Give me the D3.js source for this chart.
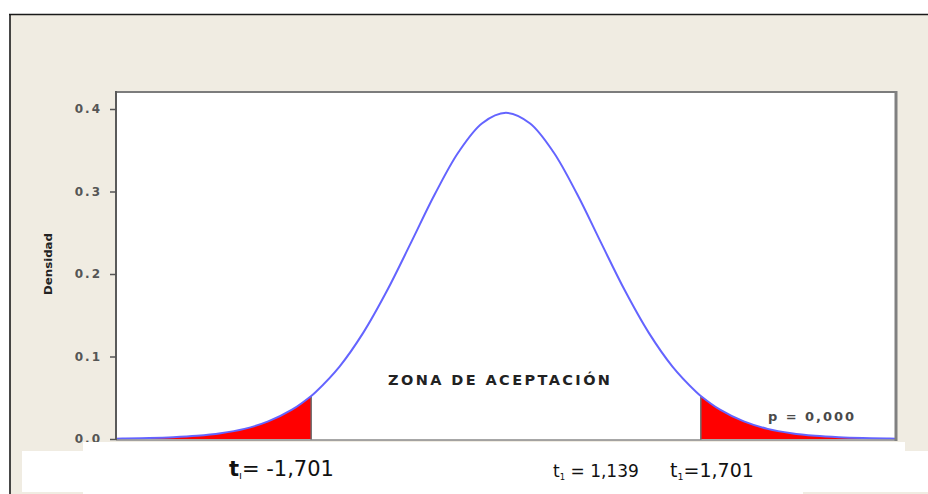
<!DOCTYPE html>
<html>
<head>
<meta charset="utf-8">
<script src="https://cdn.jsdelivr.net/npm/d3@7"></script>
<style>
  html, body { margin: 0; padding: 0; background: #ffffff; }
  svg { display: block; }
</style>
</head>
<body>
<svg id="chart" width="928" height="494"></svg>
<script>
// ---- data ----
const tValues = [-4.1, -4, -3.75, -3.5, -3.25, -3, -2.75, -2.5, -2.25, -2.048, -2, -1.75, -1.5, -1.25, -1, -0.75, -0.5, -0.25,
                 0, 0.25, 0.5, 0.75, 1, 1.25, 1.5, 1.75, 2, 2.048, 2.25, 2.5, 2.75, 3, 3.25, 3.5, 3.75, 4, 4.1];
const density = [0.00045, 0.00056, 0.00108, 0.00205, 0.00382, 0.00695, 0.0123, 0.0213, 0.0355, 0.0522, 0.0570, 0.0878, 0.1289, 0.1799, 0.2377, 0.2963, 0.3476, 0.3828,
                 0.3954, 0.3828, 0.3476, 0.2963, 0.2377, 0.1799, 0.1289, 0.0878, 0.0570, 0.0522, 0.0355, 0.0213, 0.0123, 0.00695, 0.00382, 0.00205, 0.00108, 0.00056, 0.00045];
const criticalLeft = -2.048;
const criticalRight = 2.048;
const yTicks = [0.0, 0.1, 0.2, 0.3, 0.4];
const yTickLabels = ["0.0", "0.1", "0.2", "0.3", "0.4"];
const yAxisTitle = "Densidad";
const zoneLabel = "ZONA DE ACEPTACIÓN";
const pLabel = "p = 0,000";
const bottomLabels = [
  { main: "t", sub: "ı", rest: "= -1,701" },
  { main: "t", sub: "1", rest: " = 1,139" },
  { main: "t", sub: "1", rest: "=1,701" }
];

(function () {
const svg = d3.select("#chart");
const W = 928, H = 494;
const beige = "#f0ece2";

// background frame
svg.append("rect").attr("x", 0).attr("y", 0).attr("width", W).attr("height", H).attr("fill", "#ffffff");
svg.append("rect").attr("x", 10).attr("y", 15).attr("width", W - 10).attr("height", H - 15).attr("fill", beige);
svg.append("line").attr("x1", 9).attr("x2", W).attr("y1", 14.5).attr("y2", 14.5).attr("stroke", "#1a1a1a").attr("stroke-width", 1.6);
svg.append("line").attr("x1", 10).attr("x2", 10).attr("y1", 14).attr("y2", H).attr("stroke", "#1a1a1a").attr("stroke-width", 1.6);

// plot area
const pL = 116, pR = 896, pT = 92, pB = 440;
const x = d3.scaleLinear().domain([-4.1, 4.1]).range([pL, pR]);
const y = d3.scaleLinear().domain([0, 0.4]).range([439, 109]);

svg.append("rect").attr("x", pL).attr("y", pT).attr("width", pR - pL).attr("height", pB - pT)
  .attr("fill", "#ffffff");

const pts = tValues.map((t, i) => ({ t, d: density[i] }));

// clip paths for tails
const defs = svg.append("defs");
defs.append("clipPath").attr("id", "clipL").append("rect")
  .attr("x", pL).attr("y", pT).attr("width", x(criticalLeft) - pL).attr("height", pB - pT);
defs.append("clipPath").attr("id", "clipR").append("rect")
  .attr("x", x(criticalRight)).attr("y", pT).attr("width", pR - x(criticalRight)).attr("height", pB - pT);

const area = d3.area().x(p => x(p.t)).y0(y(0)).y1(p => y(p.d)).curve(d3.curveCatmullRom);
const line = d3.line().x(p => x(p.t)).y(p => y(p.d)).curve(d3.curveCatmullRom);

svg.append("path").datum(pts).attr("d", area).attr("fill", "#ff0000").attr("clip-path", "url(#clipL)");
svg.append("path").datum(pts).attr("d", area).attr("fill", "#ff0000").attr("clip-path", "url(#clipR)");

// critical lines
[criticalLeft, criticalRight].forEach(c => {
  const i = tValues.indexOf(c);
  svg.append("line").attr("x1", x(c)).attr("x2", x(c)).attr("y1", y(density[i])).attr("y2", pB)
    .attr("stroke", "#6e6e6e").attr("stroke-width", 1.5);
});

svg.append("path").datum(pts).attr("d", line).attr("fill", "none").attr("stroke", "#6464ff").attr("stroke-width", 2);

// frame of plot area
svg.append("line").attr("x1", pL).attr("x2", pR).attr("y1", pT).attr("y2", pT).attr("stroke", "#7c7c7c").attr("stroke-width", 2);
svg.append("line").attr("x1", pL).attr("x2", pR + 1).attr("y1", pB).attr("y2", pB).attr("stroke", "#8a8a8a").attr("stroke-width", 1.5);
svg.append("line").attr("x1", pL).attr("x2", pL).attr("y1", pT - 1).attr("y2", pB).attr("stroke", "#5a5a5a").attr("stroke-width", 2);
svg.append("line").attr("x1", pR).attr("x2", pR).attr("y1", pT - 1).attr("y2", pB + 1).attr("stroke", "#808080").attr("stroke-width", 3);

// y axis
const yAxis = d3.axisLeft(y).tickValues(yTicks).tickSize(6).tickPadding(8)
  .tickFormat((d, i) => yTickLabels[i]);
const gy = svg.append("g").attr("transform", `translate(${pL},0)`).call(yAxis);
gy.select(".domain").remove();
gy.selectAll(".tick line").attr("stroke", "#555").attr("stroke-width", 1.5);
gy.selectAll(".tick text")
  .attr("font-family", "DejaVu Sans, sans-serif").attr("font-weight", "bold").attr("font-size", 12)
  .attr("letter-spacing", "2px").attr("fill", "#555");

svg.append("text").attr("transform", `translate(52,264) rotate(-90)`)
  .attr("text-anchor", "middle").attr("font-family", "DejaVu Sans, sans-serif").attr("font-weight", "bold")
  .attr("font-size", 11).attr("fill", "#222")
  .attr("textLength", 62).attr("lengthAdjust", "spacingAndGlyphs").text(yAxisTitle);

// annotations in the plot
svg.append("text").attr("x", 388).attr("y", 385).attr("font-family", "DejaVu Sans, sans-serif")
  .attr("font-weight", "bold").attr("font-size", 14.5).attr("fill", "#222")
  .attr("textLength", 222).attr("lengthAdjust", "spacing").text(zoneLabel);

svg.append("text").attr("x", 768).attr("y", 421).attr("font-family", "DejaVu Sans, sans-serif")
  .attr("font-size", 13).attr("font-weight", "600").attr("fill", "#4a4a4a")
  .attr("textLength", 86).attr("lengthAdjust", "spacing").text(pLabel);

// white patch at the bottom
svg.append("rect").attr("x", 83).attr("y", 442).attr("width", 822).attr("height", 12).attr("fill", "#ffffff");
svg.append("rect").attr("x", 22).attr("y", 451).attr("width", W - 22).attr("height", 41).attr("fill", "#ffffff");
svg.append("rect").attr("x", 83).attr("y", 490).attr("width", 720).attr("height", 4).attr("fill", "#ffffff");

// bottom labels
const labelPos = [
  { x: 229, y: 476, size: 21 },
  { x: 553, y: 477, size: 17 },
  { x: 670, y: 477, size: 19 }
];
bottomLabels.forEach((lab, i) => {
  const p = labelPos[i];
  const t = svg.append("text").attr("x", p.x).attr("y", p.y)
    .attr("font-family", "DejaVu Sans, sans-serif").attr("font-size", p.size).attr("fill", "#111");
  t.append("tspan").attr("font-weight", i === 0 ? "bold" : "normal").text(lab.main);
  t.append("tspan").attr("font-size", p.size * 0.5).attr("dy", 3).text(lab.sub);
  t.append("tspan").attr("dy", -3).text(lab.rest);
});
})();
</script>
</body>
</html>
